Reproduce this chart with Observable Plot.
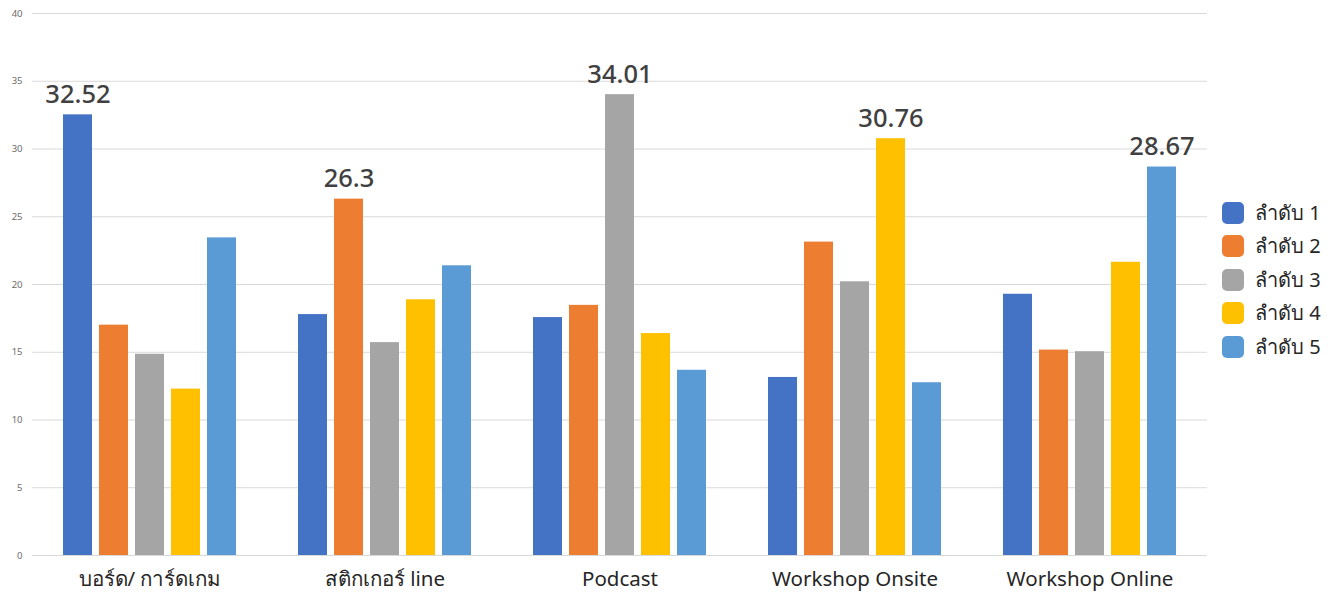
<!DOCTYPE html>
<html>
<head>
<meta charset="utf-8">
<script src="https://cdn.jsdelivr.net/npm/d3@7"></script>
<script src="https://cdn.jsdelivr.net/npm/@observablehq/plot@0.6"></script>
<style>
  html, body { margin: 0; padding: 0; background: #fff; }
  body { font-family: "Noto Sans", "Open Sans", sans-serif; }
  #wrap { position: relative; width: 1341px; height: 595px; overflow: hidden; }
  #legend { position: absolute; left: 1222px; top: 196px; }
  .row { display: flex; align-items: center; height: 33.5px; }
  .sw { width: 22px; height: 22px; border-radius: 5px; margin-right: 11px; }
  .lb { font-size: 20px; color: #262626; line-height: 22px; }
</style>
</head>
<body>
<div id="wrap"><div id="legend"></div></div>
<script>
const categories = ["บอร์ด/ การ์ดเกม", "สติกเกอร์ line", "Podcast", "Workshop Onsite", "Workshop Online"];
const series = ["ลำดับ 1", "ลำดับ 2", "ลำดับ 3", "ลำดับ 4", "ลำดับ 5"];
const rank1 = [32.52, 17.78, 17.56, 13.14, 19.28];
const rank2 = [17.0, 26.3, 18.46, 23.13, 15.16];
const rank3 = [14.85, 15.71, 34.01, 20.2, 15.04];
const rank4 = [12.28, 18.87, 16.38, 30.76, 21.64];
const rank5 = [23.44, 21.38, 13.67, 12.75, 28.67];
const colors = ["#4472C4", "#ED7D31", "#A5A5A5", "#FFC000", "#5B9BD5"];
const yTicks = [0, 5, 10, 15, 20, 25, 30, 35, 40];

const seriesValues = [rank1, rank2, rank3, rank4, rank5];
const table = [];
categories.forEach((c, i) => {
  series.forEach((s, j) => {
    table.push({category: c, series: s, value: seriesValues[j][i]});
  });
});

const chart = Plot.plot({
  width: 1341,
  height: 595,
  marginLeft: 32,
  marginRight: 134,
  marginTop: 13,
  marginBottom: 40,
  style: {background: "transparent", fontFamily: "\"Noto Sans\", \"Open Sans\", sans-serif"},
  fx: {domain: categories, padding: 0, label: null, axis: null},
  x: {domain: series, paddingInner: 0.194, paddingOuter: 0.86, axis: null},
  y: {domain: [0, 40], axis: null},
  color: {domain: series, range: colors},
  marks: [
    Plot.gridY(yTicks, {stroke: "#d9d9d9", strokeOpacity: 1}),
    Plot.axisY(yTicks, {tickSize: 0, tickPadding: 10, fontSize: 9.5, fill: "#6b6b6b", label: null}),
    Plot.axisFx({anchor: "bottom", tickSize: 0, tickPadding: 16, fontSize: 20.5, fill: "#262626", label: null}),
    Plot.barY(table, {fx: "category", x: "series", y: "value", fill: "series"}),
    Plot.text(table, Plot.selectMaxY({
      fx: "category", x: "series", y: "value", z: null,
      text: d => String(d.value),
      dy: -12, lineAnchor: "bottom", fontSize: 25.5, fontWeight: 500, fill: "#404040"
    }))
  ]
});
document.getElementById("wrap").prepend(chart);

const legend = document.getElementById("legend");
series.forEach((s, i) => {
  const row = document.createElement("div");
  row.className = "row";
  row.innerHTML = `<div class="sw" style="background:${colors[i]}"></div><div class="lb">${s}</div>`;
  legend.appendChild(row);
});
</script>
</body>
</html>
